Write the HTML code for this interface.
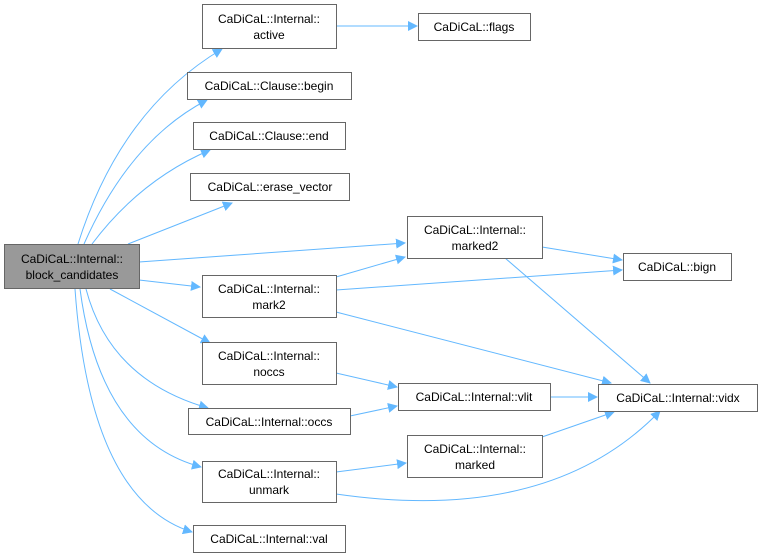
<!DOCTYPE html>
<html><head><meta charset="utf-8"><style>
html,body{margin:0;padding:0;background:#fff;width:762px;height:557px;overflow:hidden}
svg text{font-family:"Liberation Sans",Arial,sans-serif;font-size:12px;fill:#000;text-anchor:middle}
</style></head><body>
<svg width="762" height="557" viewBox="0 0 762 557" xmlns="http://www.w3.org/2000/svg">
<defs><marker id="a" viewBox="0 0 10 10" refX="9" refY="5" markerWidth="10" markerHeight="10" markerUnits="userSpaceOnUse" orient="auto"><path d="M0,0 L10,5 L0,10 z" fill="#63b8ff"/></marker></defs>
<g fill="none" stroke="#63b8ff" stroke-width="1" marker-end="url(#a)">
<path d="M78,244 Q120,110 222,49"/>
<path d="M84,244 Q130,140 207,100"/>
<path d="M92,244 Q140,180 210,150"/>
<path d="M128,244 L232,203"/>
<path d="M139,262 L405,243"/>
<path d="M139,280 L200,287"/>
<path d="M110,289 L210,343"/>
<path d="M86,289 Q110,380 208,408"/>
<path d="M80,289 Q100,440 201,467"/>
<path d="M75,289 Q90,500 192,532"/>
<path d="M337,26 L417,26"/>
<path d="M336,277 L405,257"/>
<path d="M336,290 L622,270"/>
<path d="M336,312 L611,383"/>
<path d="M542,247 L622,260"/>
<path d="M505,258 L650,383"/>
<path d="M336,373 L397,387"/>
<path d="M350,416 L397,406"/>
<path d="M550,397 L597,397"/>
<path d="M336,472 L406,463"/>
<path d="M542,437 L614,412"/>
<path d="M336,494 Q550,525 660,411"/>
</g>
<g stroke="#666" stroke-width="1" fill="#fff">
<rect x="4.5" y="244.5" width="135" height="44" fill="#999"/>
<rect x="202.5" y="4.5" width="134" height="44"/>
<rect x="418.5" y="13.5" width="112" height="27"/>
<rect x="187.5" y="72.5" width="164" height="27"/>
<rect x="193.5" y="122.5" width="152" height="27"/>
<rect x="190.5" y="173.5" width="159" height="27"/>
<rect x="407.5" y="216.5" width="135" height="42"/>
<rect x="202.5" y="275.5" width="134" height="42"/>
<rect x="623.5" y="253.5" width="108" height="27"/>
<rect x="202.5" y="342.5" width="134" height="42"/>
<rect x="398.5" y="383.5" width="152" height="27"/>
<rect x="598.5" y="384.5" width="159" height="27"/>
<rect x="188.5" y="408.5" width="162" height="26"/>
<rect x="407.5" y="435.5" width="135" height="42"/>
<rect x="202.5" y="461.5" width="134" height="41"/>
<rect x="193.5" y="525.5" width="152" height="27"/>
</g>
<text x="72" y="263">CaDiCaL::Internal::</text><text x="72" y="279">block_candidates</text>
<text x="269" y="23">CaDiCaL::Internal::</text><text x="269" y="39">active</text>
<text x="474" y="31">CaDiCaL::flags</text>
<text x="269" y="90">CaDiCaL::Clause::begin</text>
<text x="269" y="140">CaDiCaL::Clause::end</text>
<text x="270" y="191">CaDiCaL::erase_vector</text>
<text x="475" y="234">CaDiCaL::Internal::</text><text x="475" y="250">marked2</text>
<text x="269" y="293">CaDiCaL::Internal::</text><text x="269" y="309">mark2</text>
<text x="677" y="271">CaDiCaL::bign</text>
<text x="269" y="360">CaDiCaL::Internal::</text><text x="269" y="376">noccs</text>
<text x="474" y="401">CaDiCaL::Internal::vlit</text>
<text x="678" y="402">CaDiCaL::Internal::vidx</text>
<text x="269" y="426">CaDiCaL::Internal::occs</text>
<text x="475" y="453">CaDiCaL::Internal::</text><text x="475" y="469">marked</text>
<text x="269" y="478">CaDiCaL::Internal::</text><text x="269" y="494">unmark</text>
<text x="269" y="543">CaDiCaL::Internal::val</text>
</svg>
</body></html>
